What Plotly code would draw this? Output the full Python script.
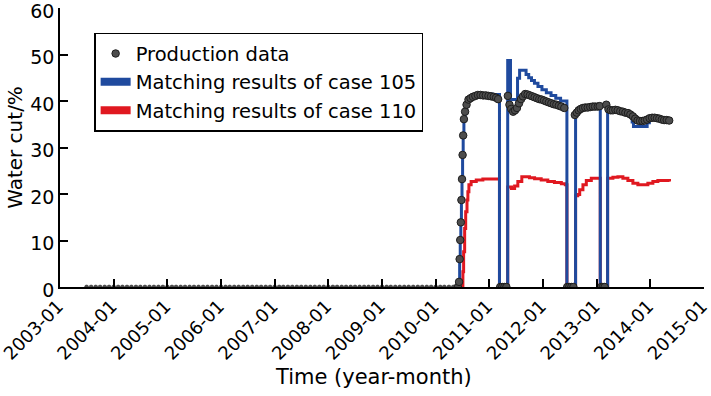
import pandas as pd
import plotly.graph_objects as go

# ---------------- data ----------------
# Production data: zero water cut period (monthly)
zero_period_dates = pd.date_range("2003-07-01", "2010-05-01", freq="MS")
zero_period_values = [0, 0, 0, 0, 0, 0, 0, 0, 0, 0, 0, 0, 0, 0, 0, 0, 0, 0, 0, 0,
                      0, 0, 0, 0, 0, 0, 0, 0, 0, 0, 0, 0, 0, 0, 0, 0, 0, 0, 0, 0,
                      0, 0, 0, 0, 0, 0, 0, 0, 0, 0, 0, 0, 0, 0, 0, 0, 0, 0, 0, 0,
                      0, 0, 0, 0, 0, 0, 0, 0, 0, 0, 0, 0, 0, 0, 0, 0, 0, 0, 0, 0,
                      0, 0, 0]

prod_dates = [
    "2010-06-01", "2010-06-09", "2010-06-13", "2010-06-17", "2010-06-21", "2010-06-25",
    "2010-06-29", "2010-07-03", "2010-07-07", "2010-07-12", "2010-07-20", "2010-07-30",
    "2010-08-12", "2010-08-26", "2010-09-11", "2010-09-28", "2010-10-15", "2010-11-02",
    "2010-11-20", "2010-12-08", "2010-12-26", "2011-01-13", "2011-01-31", "2011-02-16",
    "2011-03-02",
    "2011-03-16", "2011-03-30", "2011-04-13", "2011-04-27",
    "2011-05-07", "2011-05-18", "2011-05-30", "2011-06-12", "2011-06-25", "2011-07-08",
    "2011-07-22", "2011-08-05", "2011-08-18", "2011-09-02", "2011-09-18", "2011-10-04",
    "2011-10-20", "2011-11-05", "2011-11-21", "2011-12-07", "2011-12-23", "2012-01-08",
    "2012-01-24", "2012-02-10", "2012-02-27", "2012-03-15", "2012-04-01", "2012-04-18",
    "2012-05-05", "2012-05-25",
    "2012-06-14", "2012-06-28", "2012-07-12", "2012-07-26",
    "2012-08-05", "2012-08-18", "2012-08-31", "2012-09-14", "2012-09-29", "2012-10-15",
    "2012-11-01", "2012-11-18", "2012-12-05", "2012-12-21", "2013-01-08", "2013-01-21",
    "2013-01-31", "2013-02-12", "2013-02-24",
    "2013-03-07", "2013-03-22", "2013-04-06", "2013-04-21", "2013-05-08", "2013-05-24",
    "2013-06-10", "2013-06-28", "2013-07-15", "2013-08-02", "2013-08-18", "2013-09-04",
    "2013-09-20", "2013-10-06", "2013-10-22", "2013-11-08", "2013-11-24", "2013-12-10",
    "2013-12-27", "2014-01-13", "2014-01-30", "2014-02-15", "2014-03-03", "2014-03-20",
    "2014-04-05", "2014-04-22", "2014-05-09",
]
prod_values = [
    0, 1.1, 6.0, 10.1, 13.9, 18.7,
    23.2, 28.4, 32.6, 36.1, 37.7, 39.2,
    40.3, 40.6, 40.9, 41.1, 41.3, 41.3,
    41.2, 41.2, 41.1, 41.0, 40.9, 40.7,
    40.4,
    0, 0, 0, 0,
    41.1, 39.2, 38.3, 37.7, 38.0, 38.5,
    39.5, 40.4, 41.0, 41.5, 41.4, 41.2,
    41.0, 40.8, 40.6, 40.4, 40.3, 40.1,
    39.9, 39.7, 39.5, 39.3, 39.2, 39.0,
    38.8, 38.5,
    0, 0, 0, 0,
    37.0, 37.5, 38.0, 38.3, 38.5, 38.6,
    38.6, 38.7, 38.8, 38.8, 38.8, 38.9,
    0, 0, 0,
    39.2, 38.2, 38.0, 38.0, 38.1, 38.0,
    37.8, 37.7, 37.5, 37.4, 37.1, 36.7,
    36.2, 35.8, 35.7, 35.7, 35.8, 36.0,
    36.3, 36.4, 36.4, 36.3, 36.2, 36.0,
    35.9, 35.9, 35.8,
]

# Matching results of case 105
case105_dates = [
    "2010-06-01", "2010-06-09", "2010-06-13", "2010-06-17", "2010-06-21", "2010-06-25",
    "2010-06-29", "2010-07-03", "2010-07-07", "2010-07-12", "2010-07-20", "2010-07-30",
    "2010-08-12", "2010-08-26", "2010-09-11", "2010-10-20", "2011-01-20",
    "2011-03-11", "2011-05-06", "2011-05-25", "2011-07-12", "2011-07-26", "2011-09-08",
    "2011-09-26", "2011-10-15", "2011-11-04", "2011-11-28", "2011-12-25", "2012-01-24",
    "2012-02-25", "2012-03-28", "2012-04-30",
    "2012-06-12", "2012-08-10", "2012-08-24", "2012-09-10", "2012-09-30", "2012-11-01",
    "2012-12-15",
    "2013-01-25", "2013-03-16", "2013-04-10", "2013-05-25", "2013-07-10", "2013-08-15",
    "2013-08-30", "2013-09-08", "2013-12-10", "2013-12-25", "2014-01-15", "2014-03-01",
    "2014-04-10", "2014-05-11",
]
case105_values = [
    0, 1.4, 6.0, 10.1, 13.9, 18.7,
    23.2, 28.4, 32.6, 36.1, 37.7, 39.2,
    40.5, 41.0, 41.4, 41.5, 41.4,
    0, 48.7, 40.3, 44.9, 46.6, 45.7,
    45.0, 44.4, 43.8, 43.1, 42.4, 41.8,
    41.2, 40.6, 40.0,
    0, 37.3, 37.9, 38.3, 38.6, 38.8,
    38.9,
    0, 38.4, 38.0, 37.8, 37.5, 36.8,
    35.5, 34.5, 35.3, 36.0, 36.3, 36.0,
    35.8, 35.8,
]

# Matching results of case 110
case110_dates = [
    "2010-06-01", "2010-07-05", "2010-07-10", "2010-07-17", "2010-07-24", "2010-08-02",
    "2010-08-08", "2010-08-15", "2010-08-30", "2010-10-04", "2010-11-18",
    "2011-03-11", "2011-05-06", "2011-06-01", "2011-06-22", "2011-07-14", "2011-08-10",
    "2011-10-01", "2011-11-05", "2011-12-20", "2012-02-03", "2012-03-19", "2012-05-05",
    "2012-06-01",
    "2012-06-12", "2012-08-10", "2012-08-25", "2012-09-07", "2012-09-29", "2012-10-22",
    "2012-11-25",
    "2013-01-25", "2013-03-16", "2013-04-21", "2013-05-25", "2013-06-28", "2013-08-01",
    "2013-09-04", "2013-10-08", "2013-11-11", "2013-12-15", "2014-01-18", "2014-02-21",
    "2014-04-08", "2014-05-11",
]
case110_values = [
    0, 3.3, 7.6, 12.6, 16.2, 18.7,
    20.5, 22.0, 22.7, 23.0, 23.2,
    0, 21.5, 21.2, 21.7, 22.7, 23.7,
    23.5, 23.3, 23.0, 22.7, 22.5, 22.2,
    22.0,
    0, 19.6, 19.9, 20.9, 22.0, 22.9,
    23.4,
    0, 23.4, 23.6, 23.7, 23.4, 22.9,
    22.3, 22.0, 22.0, 22.3, 22.7, 22.9,
    22.9, 22.7,
]

tick_years = ["2003", "2004", "2005", "2006", "2007", "2008", "2009",
              "2010", "2011", "2012", "2013", "2014", "2015"]
tick_labels = [y + "-01" for y in tick_years]
tick_vals = [y + "-01-01" for y in tick_years]
y_ticks = [0, 10, 20, 30, 40, 50, 60]

x_title = "Time (year-month)"
y_title = "Water cut/%"

# ---------------- styles ----------------
BLUE = "#1f4a9e"
RED = "#e01820"
DOT = "#4d4d4d"
FONT = "DejaVu Sans"

fig = go.Figure()

# case 110 (drawn lowest)
fig.add_trace(go.Scatter(
    x=case110_dates, y=case110_values, mode="lines",
    line=dict(color=RED, width=3, shape="hv"),
    showlegend=False, hoverinfo="skip",
))
# case 105
fig.add_trace(go.Scatter(
    x=case105_dates, y=case105_values, mode="lines",
    line=dict(color=BLUE, width=3, shape="hv"),
    showlegend=False, hoverinfo="skip",
))
# production data, zero period (clipped by the axis)
fig.add_trace(go.Scatter(
    x=list(zero_period_dates.strftime("%Y-%m-%d")), y=zero_period_values,
    mode="markers", cliponaxis=True,
    marker=dict(color=DOT, size=4, line=dict(color="#1e1e1e", width=0.5)),
    showlegend=False, hoverinfo="skip",
))
# production data (on top)
fig.add_trace(go.Scatter(
    x=prod_dates, y=prod_values, mode="markers", cliponaxis=True,
    marker=dict(color=DOT, size=7.5, line=dict(color="#1e1e1e", width=1)),
    name="Production data", legendrank=1,
))
# legend entries for the simulated series
fig.add_trace(go.Scatter(
    x=[None], y=[None], mode="lines",
    line=dict(color=BLUE, width=8),
    name="Matching results of case 105", legendrank=2,
))
fig.add_trace(go.Scatter(
    x=[None], y=[None], mode="lines",
    line=dict(color=RED, width=8),
    name="Matching results of case 110", legendrank=3,
))

fig.update_layout(
    width=711, height=396,
    margin=dict(l=60, r=7, t=8, b=109, autoexpand=False),
    plot_bgcolor="white", paper_bgcolor="white",
    font=dict(family=FONT, size=19, color="black"),
    legend=dict(
        x=0.053, y=0.911, xanchor="left", yanchor="top",
        bgcolor="white", bordercolor="black", borderwidth=1.5,
        font=dict(family=FONT, size=19.5, color="black"),
        tracegroupgap=0,
    ),
    annotations=[dict(
        text=x_title, xref="paper", yref="paper", x=0.487, y=-0.324,
        xanchor="center", yanchor="middle", showarrow=False,
        font=dict(family=FONT, size=21, color="black"),
    )],
)
fig.update_xaxes(
    type="date", range=["2003-01-01", "2015-01-01"],
    tickmode="array", tickvals=tick_vals, ticktext=tick_labels,
    tickangle=-45, ticks="inside", ticklen=8, tickwidth=1.5, tickcolor="black",
    tickfont=dict(size=18), ticklabeloverflow="allow", automargin=False,
    ticklabelshift=-2,
    showline=True, linecolor="black", linewidth=1.5,
    showgrid=False, zeroline=False,
)
fig.update_yaxes(
    range=[0, 60], tickmode="array", tickvals=y_ticks,
    ticks="inside", ticklen=8, tickwidth=1.5, tickcolor="black",
    ticklabeloverflow="allow", automargin=False, ticklabelshift=3,
    showline=True, linecolor="black", linewidth=1.5,
    showgrid=False, zeroline=False,
    title=dict(text=y_title, font=dict(family=FONT, size=20), standoff=2),
)

fig.write_html("out.html", config={"displayModeBar": False},
               post_script="document.body.style.margin='0';")
